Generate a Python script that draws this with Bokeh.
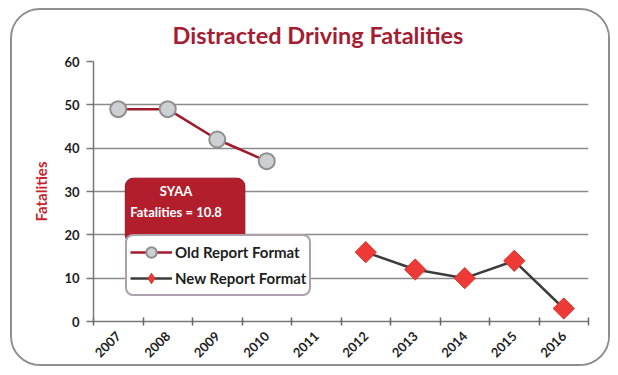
import math
from bokeh.plotting import figure
from bokeh.models import Legend, LegendItem, Label, FixedTicker, Range1d
from bokeh.embed import file_html
from bokeh.resources import INLINE

# ---- data ----
years_old = [2007, 2008, 2009, 2010]
fatal_old = [49, 49, 42, 37]
years_new = [2012, 2013, 2014, 2015, 2016]
fatal_new = [16, 12, 10, 14, 3]
year_ticks = [2007, 2008, 2009, 2010, 2011, 2012, 2013, 2014, 2015, 2016]
year_labels = [str(y) for y in year_ticks]
y_ticks = [0, 10, 20, 30, 40, 50, 60]

TITLE_RED = "#a51d32"
FONT = "Lato"

p = figure(width=600, height=358, output_backend="svg", toolbar_location=None,
           x_range=Range1d(2006.5, 2016.5), y_range=Range1d(0, 60),
           min_border_left=81, min_border_right=24, min_border_top=51, min_border_bottom=47,
           background_fill_color="white", border_fill_color="white")
p.styles = {"border": "2px solid #8e8e8e", "border-radius": "30px", "overflow": "hidden",
            "margin": "8px 0px 0px 10px"}
p.outline_line_color = None

p.title.text = "Distracted Driving Fatalities"
p.title.align = "left"
p.title.offset = 79
p.title.vertical_align = "top"
p.title.text_color = TITLE_RED
p.title.text_font = FONT
p.title.text_font_style = "bold"
p.title.text_font_size = "23.5px"
p.title.standoff = 21

# axes
xa = p.xaxis[0]
xa.ticker = FixedTicker(ticks=year_ticks, minor_ticks=[t - 0.5 for t in year_ticks] + [year_ticks[-1] + 0.5])
xa.major_label_overrides = {t: l for t, l in zip(year_ticks, year_labels)}
xa.major_label_orientation = math.pi / 4
xa.major_tick_line_color = None
xa.minor_tick_line_color = "#666666"
xa.minor_tick_line_width = 1.5
xa.minor_tick_in = 4
xa.minor_tick_out = 4
xa.axis_line_color = "#777777"
xa.axis_line_width = 1.5
xa.major_label_text_font = FONT
xa.major_label_text_font_style = "bold"
xa.major_label_text_font_size = "13px"
xa.major_label_text_color = "#1e1e1e"
xa.major_label_standoff = 6

ya = p.yaxis[0]
ya.ticker = FixedTicker(ticks=y_ticks)
ya.minor_tick_line_color = None
ya.major_tick_in = 0
ya.major_tick_out = 7
ya.major_tick_line_color = "#777777"
ya.major_tick_line_width = 1.5
ya.axis_line_color = "#777777"
ya.axis_line_width = 1.5
ya.major_label_text_font = FONT
ya.major_label_text_font_style = "bold"
ya.major_label_text_font_size = "13px"
ya.major_label_text_color = "#1e1e1e"
ya.major_label_standoff = 7
ya.axis_label = "Fatalities"
ya.axis_label_text_color = "#c8242f"
ya.axis_label_text_font = FONT
ya.axis_label_text_font_style = "bold"
ya.axis_label_text_font_size = "15px"
ya.axis_label_standoff = 11

p.xgrid.grid_line_color = None
p.ygrid.ticker = FixedTicker(ticks=y_ticks)
p.ygrid.grid_line_color = "#8a8a8a"
p.ygrid.grid_line_width = 1.5

# series
l_old = p.line(years_old, fatal_old, line_color="#a01a2a", line_width=2.5)
s_old = p.scatter(years_old, fatal_old, marker="circle", size=16,
                  fill_color="#cdd0d2", line_color="#8f8f8f", line_width=2)
l_new = p.line(years_new, fatal_new, line_color="#3c3c3c", line_width=2.5)
s_new = p.scatter(years_new, fatal_new, marker="square", angle=math.pi / 4, size=15,
                  fill_color="#ee3a35", line_color="#d8302c", line_width=1)
# hidden twin of the new series, used only for its diamond legend glyph
s_new_leg = p.scatter(years_new, fatal_new, marker="diamond", size=22,
                      fill_color="#ee3a35", line_color="#d8302c", line_width=1,
                      visible=False)

# SYAA box
lab = Label(x=2008.35, y=25.6, text="SYAA\nFatalities = 10.8", text_align="center",
            text_baseline="middle", text_color="white", text_font=FONT,
            text_font_style="bold", text_font_size="13px", text_line_height=1.3,
            background_fill_color="#b21e2c", border_line_color="#8e1520",
            border_line_width=1, padding=(5, 23, 5, 23), border_radius=8)
p.add_layout(lab)

legend = Legend(items=[LegendItem(label="Old Report Format", renderers=[l_old, s_old]),
                       LegendItem(label="New Report Format", renderers=[l_new, s_new_leg])],
                location=(32, 25), orientation="vertical",
                label_text_font=FONT, label_text_font_style="bold",
                label_text_font_size="15px", label_text_color="#1e1e1e",
                border_line_color="#5c4658", border_line_width=2,
                background_fill_color="white", background_fill_alpha=1,
                glyph_width=42, glyph_height=26, spacing=0, padding=3,
                label_standoff=3, margin=0, border_radius=8)
p.add_layout(legend, "center")

open("out.html", "w").write(file_html(p, INLINE))
